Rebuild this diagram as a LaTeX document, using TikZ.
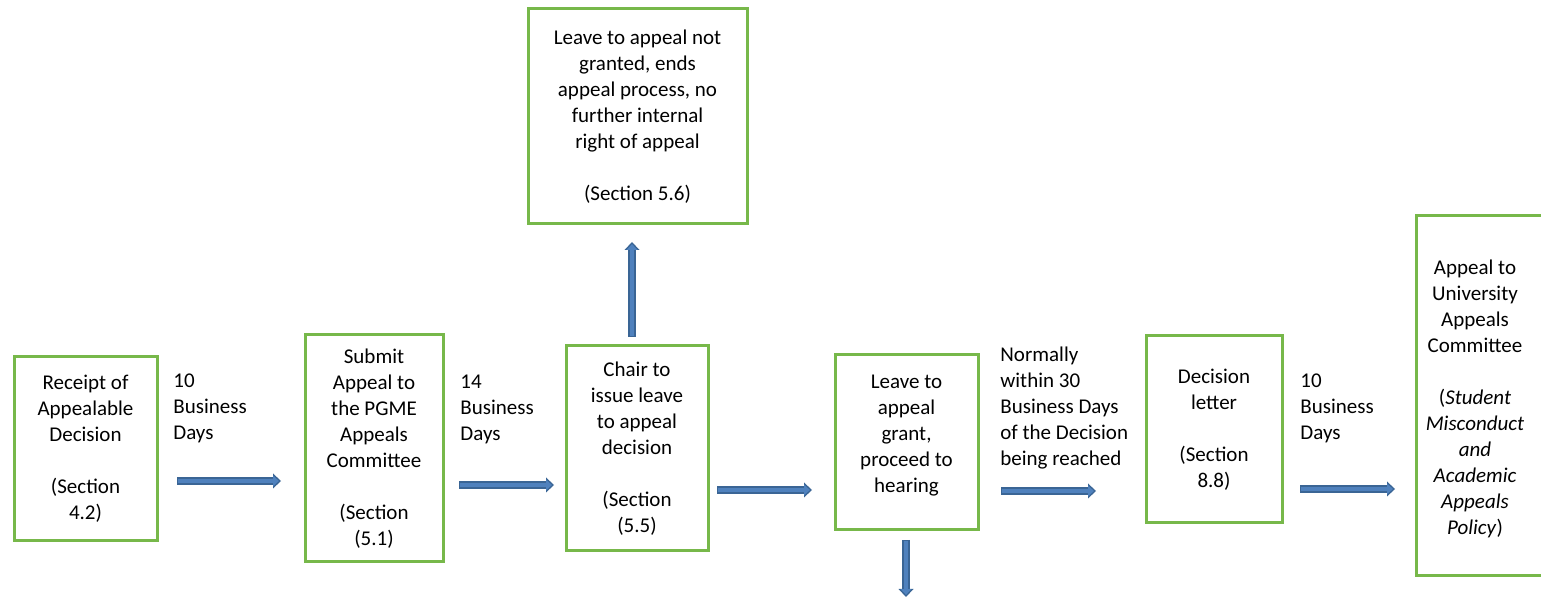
\documentclass[tikz,border=0pt]{standalone}
\usepackage{fontspec}
\setmainfont{Carlito}
\usepackage{tikz}
\usetikzlibrary{arrows.meta, positioning}
\definecolor{boxgreen}{HTML}{77B84A}
\definecolor{flowfill}{HTML}{4F81BD}
\definecolor{flowedge}{HTML}{3A6595}

\begin{document}
\begin{tikzpicture}[x=0.5pt, y=-0.5pt, font=\fontsize{10.5}{13}\selectfont,
  stage/.style={rectangle, draw=boxgreen, line width=1.5pt, align=center, inner sep=0pt},
  days/.style={align=left, inner sep=0pt, anchor=west},
  flow/.style={draw=flowedge, line width=3.75pt, -{Triangle[length=4pt,width=7.5pt,line width=0pt]},
    postaction={draw=flowfill, line width=2.4pt, shorten >=1.1pt, shorten <=0.6pt,
      -{Triangle[length=2.8pt,width=5.4pt,line width=0pt]}}}]
  \useasboundingbox (0,0) rectangle (1541,597);
  % boxes
  \node[stage, minimum width=71.5pt, minimum height=92pt] (rec) at (85.5,449)
    {Receipt of\\Appealable\\Decision\\[13pt](Section\\4.2)};
  \node[stage, minimum width=69pt, minimum height=113.5pt] (sub) at (374,448.5)
    {Submit\\Appeal to\\the PGME\\Appeals\\Committee\\[13pt](Section\\(5.1)};
  \node[stage, minimum width=71pt, minimum height=102.5pt] (chr) at (637,448.5)
    {Chair to\\issue leave\\to appeal\\decision\\[13pt](Section\\(5.5)};
  \node[stage, minimum width=109.5pt, minimum height=107.5pt] (ngr) at (637.5,116.5)
    {Leave to appeal not\\granted, ends\\appeal process, no\\further internal\\right of appeal\\[13pt](Section 5.6)};
  \node[stage, minimum width=71.5pt, minimum height=87.5pt] (grt) at (906.5,442.5)
    {};
  \node[align=center, inner sep=0pt] (grttxt) at (906.5,436)
    {Leave to\\appeal\\grant,\\proceed to\\hearing};
  \node[stage, minimum width=68pt, minimum height=93.5pt] (dec) at (1214,429.5)
    {Decision\\letter\\[13pt](Section\\8.8)};
  \node[stage, minimum width=68pt, minimum height=180pt] (uac) at (1484,396) {};
  \node[align=center, inner sep=0pt] (uactxt) at (1475,398.5)
    {Appeal to\\University\\Appeals\\Committee\\[13pt](\textit{Student}\\\textit{Misconduct}\\\textit{and}\\\textit{Academic}\\\textit{Appeals}\\\textit{Policy})};
  % time labels
  \node[days] (d1) at (173,408) {10\\Business\\Days};
  \node[days] (d2) at (460,409) {14\\Business\\Days};
  \node[days] (d3) at (1000,408.5) {Normally\\within 30\\Business Days\\of the Decision\\being reached};
  \node[days] (d4) at (1300,408) {10\\Business\\Days};
  % arrow ends
  \coordinate (a1s) at (177,481);  \coordinate (a1e) at (281,481);
  \coordinate (a2s) at (459,485);  \coordinate (a2e) at (554,485);
  \coordinate (a3s) at (717,490);  \coordinate (a3e) at (812,490);
  \coordinate (a4s) at (1001,491); \coordinate (a4e) at (1096,491);
  \coordinate (a5s) at (1300,489); \coordinate (a5e) at (1395,489);
  \coordinate (ups) at (632,337);  \coordinate (upe) at (632,242);
  \coordinate (dns) at (906,540);  \coordinate (dne) at (906,597);
  \draw[flow] (a1s) -- (a1e);
  \draw[flow] (a2s) -- (a2e);
  \draw[flow] (a3s) -- (a3e);
  \draw[flow] (a4s) -- (a4e);
  \draw[flow] (a5s) -- (a5e);
  \draw[flow] (ups) -- (upe);
  \draw[flow] (dns) -- (dne);
\end{tikzpicture}
\end{document}
